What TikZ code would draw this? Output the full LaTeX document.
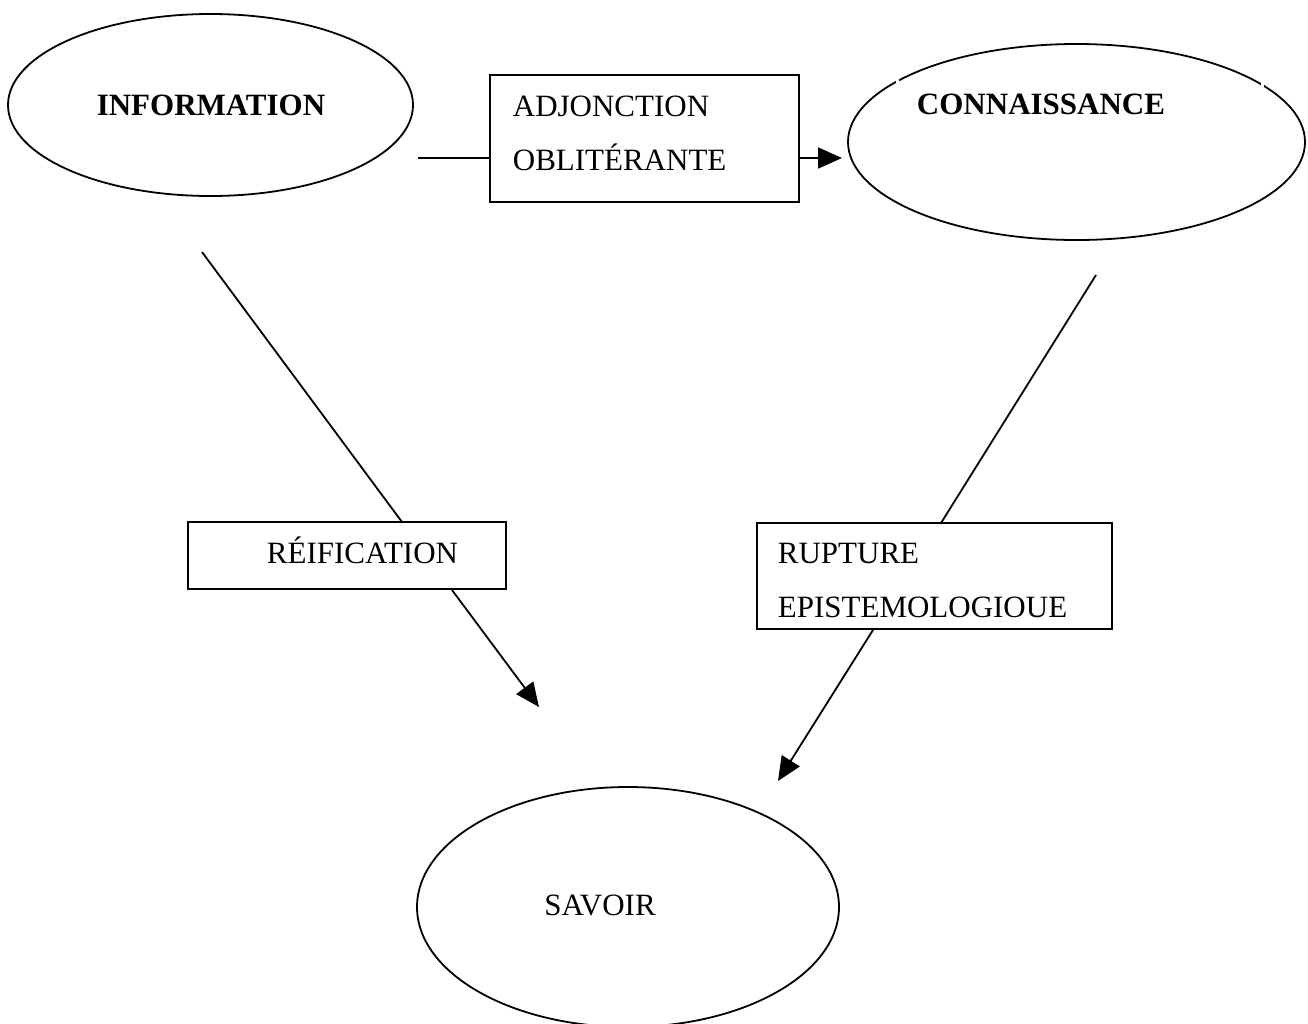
\documentclass[tikz,border=0pt]{standalone}
\usepackage{fontspec}
\setmainfont{Liberation Serif}
\usetikzlibrary{shapes.geometric,arrows.meta}
\begin{document}
\begin{tikzpicture}[x=1pt,y=-1pt,
  line width=1.8pt,
  oval/.style={draw,ellipse,inner sep=0pt},
  frame/.style={draw,rectangle,inner sep=0pt},
  lbl/.style={inner sep=0pt,font=\fontsize{31}{54}\selectfont},
  blbl/.style={lbl,font=\fontsize{31}{54}\selectfont\bfseries},
  tip/.style={-{Triangle[length=24pt,width=21pt]}}]
\useasboundingbox (0,0) rectangle (1308,1023);

% the three concepts
\node[oval,minimum width=405pt,minimum height=182pt] (info) at (210.5,105) {};
\node[oval,minimum width=457pt,minimum height=196pt] (conn) at (1076.5,142) {};
\node[oval,minimum width=422pt,minimum height=240pt] (sav) at (628,907) {};
\node[blbl,anchor=base] (tinfo) at (211,115) {INFORMATION};
\node[blbl,anchor=base] (tconn) at (1041,114) {CONNAISSANCE};
\node[lbl,anchor=base] (tsav) at (600,915) {SAVOIR};

% hidden borders of the title frame cutting the upper oval
\draw[white,line width=3pt] (897,62) -- (897,92) (1262,66) -- (1262,96);

% transition boxes
\node[frame,minimum width=309pt,minimum height=127pt] (adj) at (644.5,138.5) {};
\node[lbl,anchor=base west] (tadj1) at (512,116) {ADJONCTION};
\node[lbl,anchor=base west] (tadj2) at (512,170) {OBLITÉRANTE};

\node[frame,minimum width=318pt,minimum height=67pt] (rei) at (347,555.5) {};
\node[lbl,anchor=base west] (trei) at (266,563) {RÉIFICATION};

\node[frame,minimum width=355pt,minimum height=106pt] (rup) at (934.5,576) {};
\node[lbl,anchor=base west] (trup1) at (777,563) {RUPTURE};
\node[lbl,anchor=base west] (trup2) at (777,617) {EPISTEMOLOGIOUE};

% connector end points
\coordinate (a1) at (418,158);
\coordinate (a2) at (490,158);
\coordinate (a3) at (799,158);
\coordinate (a4) at (842,158);
\coordinate (b1) at (202,252);
\coordinate (b2) at (402,522);
\coordinate (b3) at (452,590);
\coordinate (b4) at (539,707);
\coordinate (c1) at (1096,275);
\coordinate (c2) at (941,523);
\coordinate (c3) at (873,630);
\coordinate (c4) at (778,781);

% connectors
\draw (a1) -- (a2);
\draw[tip] (a3) -- (a4);
\draw (b1) -- (b2);
\draw[tip] (b3) -- (b4);
\draw (c1) -- (c2);
\draw[tip] (c3) -- (c4);
\end{tikzpicture}
\end{document}
